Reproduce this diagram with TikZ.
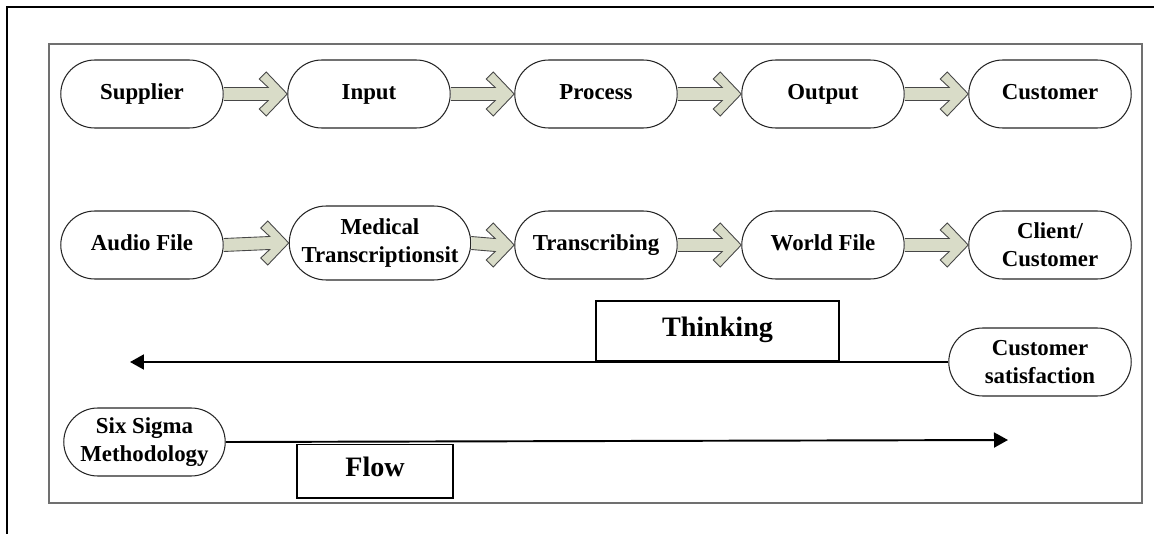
\documentclass[tikz,border=0pt]{standalone}
\usepackage{fontspec}
\setmainfont{Liberation Serif}
\usetikzlibrary{arrows.meta,calc,positioning,shapes.misc}
\definecolor{sipocink}{HTML}{262626}
\definecolor{sipocframe}{HTML}{707070}
\definecolor{sipocshaft}{HTML}{D9DCC8}
\definecolor{sipocshaftedge}{HTML}{474747}
\tikzset{
  every picture/.style={font=\bfseries\fontsize{13}{16}\selectfont},
  stage/.style={rounded rectangle,draw=sipocink,fill=white,line width=0.6pt,
    minimum width=3.32cm,minimum height=1.36cm,inner sep=1pt,align=center},
  oneline/.style={stage,text height=1.9ex,text depth=0.45ex},
  labelbox/.style={draw=black,fill=white,line width=0.9pt,
    minimum width=4.86cm,minimum height=1.2cm,
    text height=1.8ex,text depth=0.45ex,
    font=\bfseries\fontsize{16}{19}\selectfont},
  flowline/.style={draw=black,line width=1.1pt,
    -{Triangle[length=2.8mm,width=3mm]}},
  fatarrow/.style={fill=sipocshaft,draw=sipocshaftedge,line width=0.5pt,
    line join=miter},
}
% open outline, so the shaft end meets the box with no stroke
\newcommand{\fatarrow}[2]{%
  \path[fatarrow] ($(#1.east)+(0,-6.5)$) -- ($(#2.west)+(-19,-6.5)$)
    -- ($(#2.west)+(-28,-15)$) -- ($(#2.west)+(-21,-22)$) -- (#2.west)
    -- ($(#2.west)+(-21,22)$) -- ($(#2.west)+(-28,15)$)
    -- ($(#2.west)+(-19,6.5)$) -- ($(#1.east)+(0,6.5)$);}

\begin{document}
\begin{tikzpicture}[x=0.02cm,y=-0.02cm]
  \useasboundingbox (0,0) rectangle (1154,534);
  % page frame and panel
  \draw[line width=1.4pt] (1154,7) -- (7,7) -- (7,534);
  \draw[sipocframe,line width=0.6pt] (49,44) rectangle (1142,503);

  % SIPOC row
  \node[oneline] (supplier) at (142,94) {Supplier};
  \node[oneline] (input) at (369,94) {Input};
  \node[oneline] (process) at (596,94) {Process};
  \node[oneline] (output) at (823,94) {Output};
  \node[oneline] (customer) at (1050,94) {Customer};
  \fatarrow{supplier}{input}
  \fatarrow{input}{process}
  \fatarrow{process}{output}
  \fatarrow{output}{customer}

  % transcription row
  \node[oneline] (audio) at (142,245) {Audio File};
  \node[stage,minimum width=3.7cm,minimum height=1.48cm] (medical) at (380,243)
    {Medical\\Transcriptionsit};
  \node[oneline] (transcribing) at (596,245) {Transcribing};
  \node[oneline] (worldfile) at (823,245) {World File};
  \node[stage] (client) at (1050,245) {Client/\\Customer};
  \fatarrow{audio}{medical}
  \fatarrow{medical}{transcribing}
  \fatarrow{transcribing}{worldfile}
  \fatarrow{worldfile}{client}

  % thinking runs back, flow runs forward
  \node[stage,minimum width=3.72cm] (custsat) at (1040,362)
    {Customer\\satisfaction};
  \coordinate (thinktip) at (130,362);
  \draw[flowline] (custsat.west) -- (thinktip);
  \node[labelbox,anchor=south] (thinking) at (717.5,362) {Thinking};

  \node[stage,minimum width=3.3cm] (sixsigma) at (144.5,442)
    {Six Sigma\\Methodology};
  \coordinate (flowtip) at (1008,440);
  \draw[flowline] (sixsigma.east) -- (flowtip);
  \node[labelbox,anchor=north,minimum width=3.12cm,minimum height=1.08cm]
    (flow) at (375,443.5) {Flow};
\end{tikzpicture}
\end{document}
